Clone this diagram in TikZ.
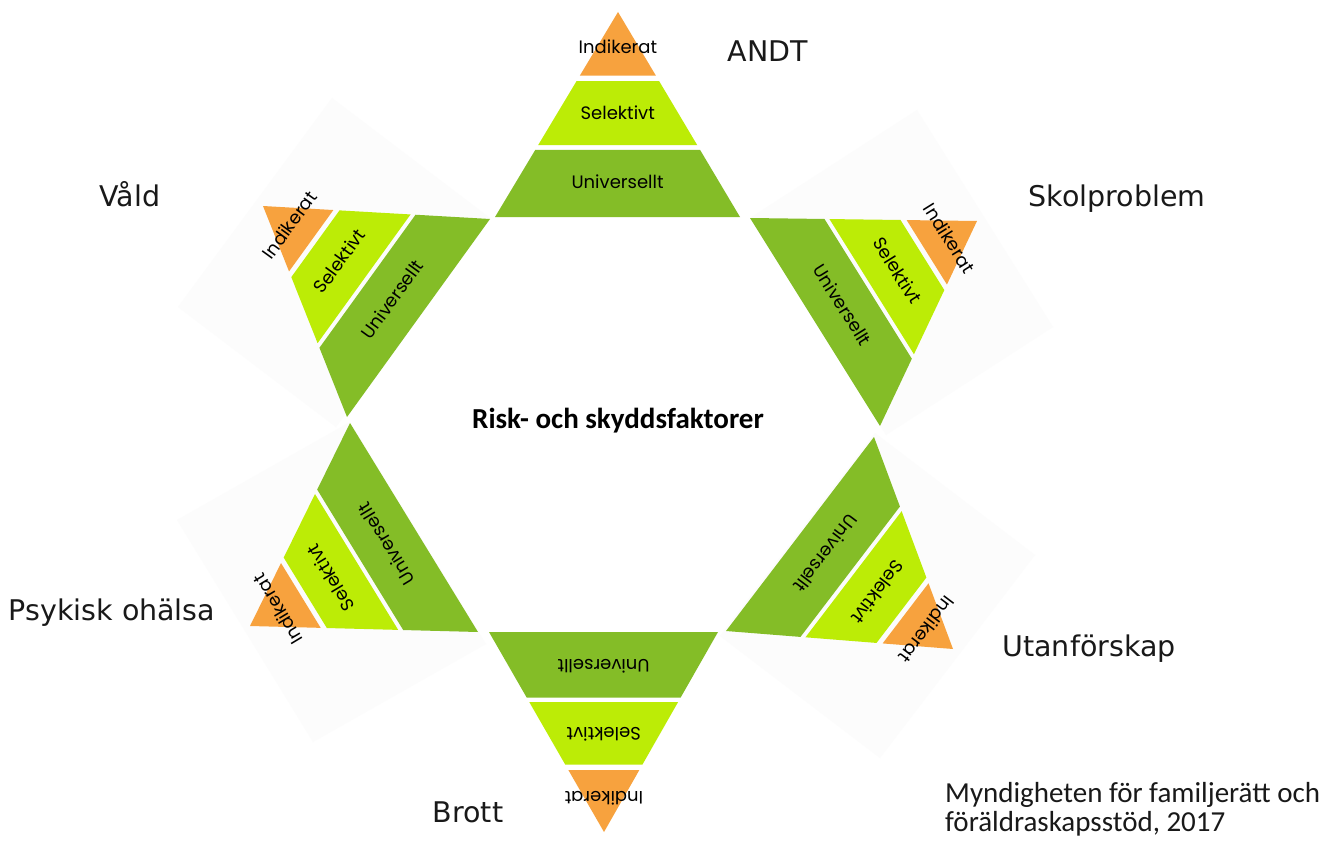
\documentclass[tikz,border=0pt]{standalone}
\usepackage{fontspec}
\setmainfont{Carlito}
\newfontfamily\catfont{DejaVu Sans}
\newfontfamily\pyrfont{Poppins}
\usetikzlibrary{calc}
\definecolor{indikC}{HTML}{F7A23E}
\definecolor{selekC}{HTML}{BCEC06}
\definecolor{univC}{HTML}{84BD27}
\definecolor{bgC}{HTML}{FCFCFC}
\tikzset{
  indik/.style={fill=indikC},
  selek/.style={fill=selekC},
  univ/.style={fill=univC},
  bgsq/.style={fill=bgC},
  pyrlab/.style={font=\pyrfont\fontsize{18}{21}\selectfont, inner sep=0pt, text=black},
  catlab/.style={font=\catfont\fontsize{28.5}{33}\selectfont, anchor=base, inner sep=0pt, text=black!90},
  credit/.style={font=\fontsize{29}{34}\selectfont, anchor=base west, inner sep=0pt, text=black!90},
}
\newcommand{\drawpyr}[4]{%
  \coordinate (#1m) at ($(#2)!0.5!(#3)$);
  \fill[indik] (#1) -- ($(#1)!0.31!(#2)$) -- ($(#1)!0.31!(#3)$) -- cycle;
  \fill[selek] ($(#1)!0.337!(#2)$) -- ($(#1)!0.65!(#2)$) -- ($(#1)!0.65!(#3)$) -- ($(#1)!0.337!(#3)$) -- cycle;
  \fill[univ] ($(#1)!0.672!(#2)$) -- (#2) -- (#3) -- ($(#1)!0.672!(#3)$) -- cycle;
  \node[pyrlab, rotate=#4] (#1-ind) at ($(#1)!0.17!(#1m)$) {Indikerat};
  \node[pyrlab, rotate=#4] (#1-sel) at ($(#1)!0.49!(#1m)$) {Selektivt};
  \node[pyrlab, rotate=#4] (#1-uni) at ($(#1)!0.83!(#1m)$) {Universellt};
}
\begin{document}
\begin{tikzpicture}[x=1pt,y=-1pt]
\useasboundingbox (0,0) rectangle (1336,848);
\fill[white] (0,0) rectangle (1336,848);
% faint background squares
\fill[bgsq] (332,98) -- (490,218) -- (336,427) -- (178,307) -- cycle;
\fill[bgsq] (917,110) -- (1053,327) -- (886,435) -- (750,218) -- cycle;
\fill[bgsq] (350,422) -- (486,644) -- (313,742) -- (177,520) -- cycle;
\fill[bgsq] (875,433) -- (1035,555) -- (880,758) -- (720,636) -- cycle;
% pyramid corners
\coordinate (T) at (618,12);   \coordinate (T1) at (495,217); \coordinate (T2) at (740,217);
\coordinate (UL) at (263,206); \coordinate (UL1) at (490,219); \coordinate (UL2) at (347,417);
\coordinate (UR) at (977,221); \coordinate (UR1) at (750,218); \coordinate (UR2) at (880,426);
\coordinate (LL) at (250,626); \coordinate (LL1) at (350,423); \coordinate (LL2) at (478,632);
\coordinate (LR) at (953,649); \coordinate (LR1) at (874,437); \coordinate (LR2) at (726,631);
\coordinate (B) at (604,832);  \coordinate (B1) at (489,632);  \coordinate (B2) at (718,632);
\drawpyr{T}{T1}{T2}{0}
\drawpyr{UL}{UL1}{UL2}{54}
\drawpyr{UR}{UR1}{UR2}{-58}
\drawpyr{LL}{LL1}{LL2}{121}
\drawpyr{LR}{LR1}{LR2}{-127}
\drawpyr{B}{B1}{B2}{180}
% category labels
\node[catlab] (andt) at (768,62) {ANDT};
\node[catlab] (vald) at (130,206) {Våld};
\node[catlab] (skol) at (1117,206) {Skolproblem};
\node[catlab] (psyk) at (112,620) {Psykisk ohälsa};
\node[catlab] (utan) at (1089,656) {Utanförskap};
\node[catlab] (brott) at (468,822) {Brott};
\node[font=\bfseries\fontsize{29}{33}\selectfont, anchor=base, inner sep=0pt] (risk) at (618,428) {Risk- och skyddsfaktorer};
\node[credit] (cred1) at (945,802) {Myndigheten för familjerätt och};
\node[credit] (cred2) at (945,831) {föräldraskapsstöd, 2017};
\end{tikzpicture}
\end{document}
